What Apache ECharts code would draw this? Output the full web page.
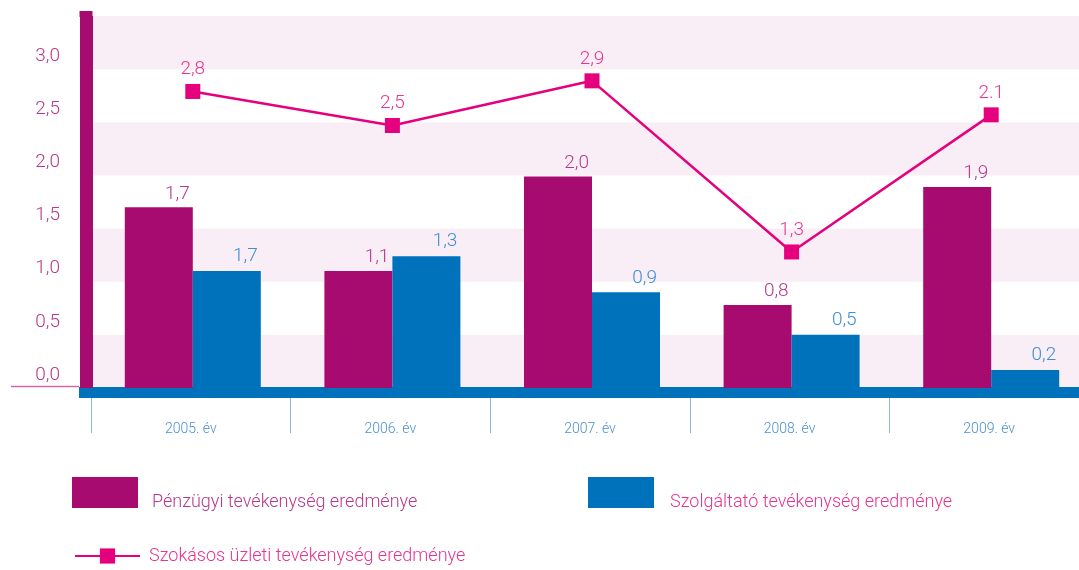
<!DOCTYPE html>
<html>
<head>
<meta charset="utf-8">
<script src="https://cdn.jsdelivr.net/npm/echarts@6/dist/echarts.min.js"></script>
<style>
  html, body { margin: 0; padding: 0; background: #fff; }
  #chart { width: 1079px; height: 570px; }
</style>
</head>
<body>
<div id="chart"></div>
<script>
const categories = ['2005. év', '2006. év', '2007. év', '2008. év', '2009. év']
const finValues = [1.70, 1.10, 1.99, 0.78, 1.89]
const svcValues = [1.10, 1.24, 0.90, 0.50, 0.17]
const lineValues = [2.79, 2.47, 2.89, 1.28, 2.57]
// labels as printed on the original (they don't always match the bar heights)
const finLabels = ['1,7', '1,1', '2,0', '0,8', '1,9']
const svcLabels = ['1,7', '1,3', '0,9', '0,5', '0,2']
const lineLabels = ['2,8', '2,5', '2,9', '1,3', '2.1']
const yTickLabels = ['0,0', '0,5', '1,0', '1,5', '2,0', '2,5', '3,0', '']

const FONT = "Roboto, sans-serif"
const MAGENTA = '#a80b6f'
const BLUE = '#0071bb'
const PINK = '#e5007d'
const LABEL_MAGENTA = '#b8378c'
const LABEL_PINK = '#e8338f'

const myChart = echarts.init(document.getElementById('chart'), null, { renderer: 'canvas' })

const legendText = (color, padLeft) => ({
  fontFamily: FONT, fontSize: 18, fontWeight: 300, color: color, padding: [0, 0, 0, padLeft]
})
// bar legends: text sits lower than the middle of the swatch
const lowText = (color, padLeft) => Object.assign(legendText(color, padLeft), { lineHeight: 19 })

myChart.setOption({
  animation: false,
  textStyle: { fontFamily: FONT },
  grid: [
    { left: 93, top: 16, bottom: 182, width: 998, outerBoundsMode: 'none', containLabel: false },
    // same box, 2px to the left, only for the category ticks and labels
    { left: 91, top: 16, bottom: 182, width: 998, outerBoundsMode: 'none', containLabel: false }
  ],
  legend: [
    {
      left: 72, top: 473.5, padding: 0,
      itemWidth: 66, itemHeight: 31,
      icon: 'rect',
      data: ['Pénzügyi tevékenység eredménye'],
      formatter: (name) => '\n' + name,
      textStyle: lowText(LABEL_MAGENTA, 9)
    },
    {
      left: 588, top: 473.5, padding: 0,
      itemWidth: 66, itemHeight: 31,
      icon: 'rect',
      data: ['Szolgáltató tevékenység eredménye'],
      formatter: (name) => '\n' + name,
      textStyle: lowText(LABEL_PINK, 11)
    },
    {
      left: 74, top: 547, padding: 0,
      itemWidth: 65, itemHeight: 19,
      data: ['Szokásos üzleti tevékenység eredménye'],
      textStyle: legendText(LABEL_PINK, 4)
    }
  ],
  xAxis: [
    {
      type: 'category',
      gridIndex: 0,
      data: categories,
      offset: 4.5,
      axisLine: { onZero: false, lineStyle: { color: BLUE, width: 11, cap: 'butt' } },
      axisTick: { show: false },
      axisLabel: { show: false }
    },
    {
      type: 'category',
      gridIndex: 1,
      data: categories,
      position: 'bottom',
      offset: 10,
      axisLine: { show: false, onZero: false },
      axisTick: { show: true, length: 35, lineStyle: { color: '#8db6e0', width: 1 } },
      axisLabel: { margin: 24, fontFamily: FONT, fontSize: 14, fontWeight: 300, color: '#4a90d2' }
    }
  ],
  yAxis: [
    {
      type: 'value',
      gridIndex: 0,
      min: 0,
      max: 3.5,
      interval: 0.5,
      offset: 7,
      axisLine: { show: true, lineStyle: { color: MAGENTA, width: 13, cap: 'butt' } },
      axisTick: { show: false },
      splitLine: { show: false },
      splitArea: { show: true, areaStyle: { color: ['#f9eef5', '#ffffff'] } },
      axisLabel: {
        margin: 26,
        fontFamily: FONT,
        fontSize: 19,
        fontWeight: 300,
        color: LABEL_MAGENTA,
        verticalAlign: 'bottom',
        lineHeight: 20,
        padding: [0, 0, 3, 0],
        formatter: (v) => yTickLabels[Math.round(v / 0.5)]
      }
    },
    {
      type: 'value',
      gridIndex: 1,
      min: 0,
      max: 3.5,
      show: false
    }
  ],
  graphic: [
    // thin line left of the axis at zero, start of the blue base band, top of the magenta axis
    { type: 'line', shape: { x1: 11, y1: 386.5, x2: 79, y2: 386.5 }, style: { stroke: '#d36aa8', lineWidth: 1.5 } },
    { type: 'rect', shape: { x: 79, y: 387, width: 15, height: 11 }, style: { fill: BLUE } },
    { type: 'rect', shape: { x: 79.5, y: 11, width: 13, height: 6 }, style: { fill: MAGENTA } }
  ],
  series: [
    {
      name: 'Pénzügyi tevékenység eredménye',
      type: 'bar',
      data: finValues,
      barWidth: 68,
      barGap: '0%',
      itemStyle: { color: MAGENTA },
      label: {
        show: true,
        position: ['100%', 0],
        align: 'right',
        verticalAlign: 'bottom',
        offset: [-3, -4],
        fontFamily: FONT,
        fontSize: 19,
        fontWeight: 300,
        color: LABEL_MAGENTA,
        formatter: (p) => finLabels[p.dataIndex]
      }
    },
    {
      name: 'Szolgáltató tevékenység eredménye',
      type: 'bar',
      data: svcValues,
      barWidth: 68,
      barGap: '0%',
      itemStyle: { color: BLUE },
      label: {
        show: true,
        position: ['100%', 0],
        align: 'right',
        verticalAlign: 'bottom',
        offset: [-3, -5],
        fontFamily: FONT,
        fontSize: 19,
        fontWeight: 300,
        color: '#3b8fd2',
        formatter: (p) => svcLabels[p.dataIndex]
      }
    },
    {
      name: 'Szokásos üzleti tevékenység eredménye',
      type: 'line',
      data: lineValues,
      symbol: 'rect',
      symbolSize: 15,
      z: 5,
      itemStyle: { color: PINK },
      lineStyle: { color: PINK, width: 2.5 },
      label: {
        show: true,
        position: 'top',
        distance: 5,
        fontFamily: FONT,
        fontSize: 19,
        fontWeight: 300,
        color: LABEL_PINK,
        formatter: (p) => lineLabels[p.dataIndex]
      }
    }
  ]
})

window.addEventListener('resize', () => {
  myChart.resize()
}, false)
</script>
</body>
</html>
